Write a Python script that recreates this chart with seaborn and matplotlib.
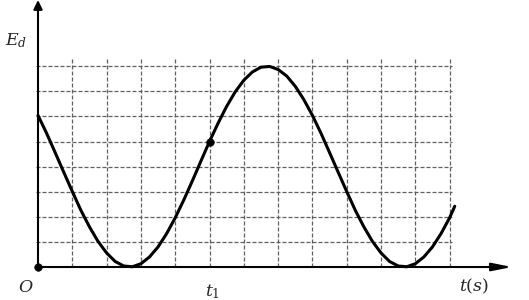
import numpy as np
import pandas as pd
import matplotlib
matplotlib.use("Agg")
import matplotlib.pyplot as plt
import seaborn as sns

# values (t in grid units, E_d in grid units)
t_values = [0.0, 0.25, 0.5, 0.75, 1.0, 1.25, 1.5, 1.75, 2.0, 2.25, 2.5, 2.75,
            3.0, 3.25, 3.5, 3.75, 4.0, 4.25, 4.5, 4.75, 5.0, 5.25, 5.5, 5.75,
            6.0, 6.25, 6.5, 6.75, 7.0, 7.25, 7.5, 7.75, 8.0, 8.25, 8.5, 8.75,
            9.0, 9.25, 9.5, 9.75, 10.0, 10.25, 10.5, 10.75, 11.0, 11.25, 11.5,
            11.75, 12.0, 12.15]
ed_values = [6.04, 5.33, 4.56, 3.78, 3.01, 2.26, 1.60, 1.02, 0.56, 0.22, 0.04, 0.01,
             0.13, 0.40, 0.80, 1.33, 1.96, 2.67, 3.43, 4.22, 5.00, 5.73, 6.40, 6.98,
             7.44, 7.77, 7.96, 7.99, 7.87, 7.61, 7.20, 6.67, 6.04, 5.33, 4.56, 3.78,
             3.01, 2.26, 1.60, 1.02, 0.56, 0.22, 0.04, 0.01, 0.13, 0.40, 0.80, 1.33,
             1.96, 2.42]
point_t = [0.0, 5.0]
point_ed = [0.0, 5.0]
grid_x = [1, 2, 3, 4, 5, 6, 7, 8, 9, 10, 11, 12]
grid_y = [1, 2, 3, 4, 5, 6, 7, 8]

df = pd.DataFrame({"t": t_values, "E": ed_values})
pts = pd.DataFrame({"t": point_t, "E": point_ed})

sns.set_theme(style="white")
plt.rcParams["mathtext.fontset"] = "dejavuserif"

W, H = 529, 300
fig = plt.figure(figsize=(W / 100, H / 100), dpi=100)
ax = fig.add_axes([0, 0, 1, 1])
x0, y0, sx, sy = 38.0, 267.0, 34.3, 25.1
ax.set_xlim(-x0 / sx, (W - x0) / sx)
ax.set_ylim((y0 - H) / sy, y0 / sy)
ax.axis("off")

# dashed grid
ax.vlines(grid_x, 0, (y0 - 57) / sy, colors="#606060", linestyles=(0, (3.2, 1.6)), linewidth=0.9, zorder=1)
ax.hlines(grid_y, -2 / sx, (452 - x0) / sx, colors="#606060", linestyles=(0, (3.2, 1.6)), linewidth=0.9, zorder=1)

# axes with arrows
ax.annotate("", xy=(0, (y0 - 0) / sy), xytext=(0, 0),
            arrowprops=dict(arrowstyle="-|>,head_length=0.45,head_width=0.22", color="black", lw=1.5, shrinkA=0, shrinkB=0), zorder=3)
ax.annotate("", xy=((512 - x0) / sx, 0), xytext=(0, 0),
            arrowprops=dict(arrowstyle="-|>,head_length=1.0,head_width=0.2", color="black", lw=1.5, shrinkA=0, shrinkB=0), zorder=3)

sns.lineplot(data=df, x="t", y="E", ax=ax, color="black", linewidth=2.2, sort=False, zorder=4)
sns.scatterplot(data=pts, x="t", y="E", ax=ax, color="black", s=30, edgecolor="black", zorder=5)

fs = 12.5
ax.text(-33 / sx, (y0 - 41) / sy, r"$E_d$", fontsize=fs, ha="left", va="center")
ax.text(-20 / sx, (y0 - 287) / sy, r"$O$", fontsize=fs, ha="left", va="center")
ax.text((205 - x0) / sx, (y0 - 292) / sy, r"$t_1$", fontsize=fs, ha="left", va="center")
ax.text((459 - x0) / sx, (y0 - 286) / sy, r"$t(s)$", fontsize=fs, ha="left", va="center")

fig.savefig("out.png", dpi=100)
